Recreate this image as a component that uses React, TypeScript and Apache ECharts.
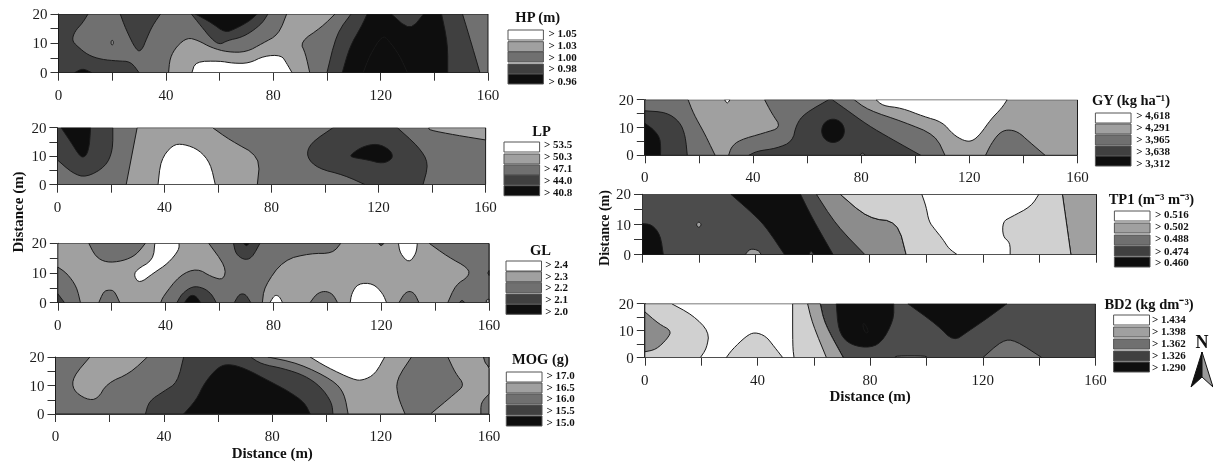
import React, { useEffect, useRef } from "react";
import * as echarts from "echarts";

type Pt = [number, number];
type Layer = [number, Pt[]];

// level index -> see LEVEL_COLORS
const hpLayers: Layer[] = [
  [2, [[0,0],[160,0],[160,20],[0,20]]],
  [3, [[0,20],[11,20],[9,17],[6,14],[5,11],[7,9],[11,6],[16,4.5],[22,4],[27,3.8],[30,0],[0,0]]],
  [3, [[23,20],[25,15],[29,7.5],[31,7.5],[33,12],[35,16],[38,20]]],
  [1, [[19.6,11],[20.4,11],[20.4,9.5],[19.6,9.5]]],
  [4, [[6,0],[9,1.5],[12.4,0]]],
  [1, [[41,0],[41.5,5],[44,9],[48,12],[52,11],[57,8.5],[63,7],[70,7],[76,10],[82,13],[85,20],[103,20],[98,15.5],[90,10.5],[92,6.6],[93.6,0]]],
  [3, [[49.5,20],[53,16],[57,11.5],[60,9.5],[63,11],[68,12],[72,14],[76,17],[78,20]]],
  [4, [[51,20],[57,17],[62,13.6],[66,15],[71,17.5],[74,20]]],
  [0, [[49.7,0],[51,3.8],[60,4],[65,3.2],[71,3.2],[76.5,5.7],[83,6],[85,3.2],[87,0]]],
  [3, [[109,20],[103.6,13.4],[100,0],[157,0],[152.7,13.4],[150.5,20]]],
  [4, [[115,20],[112.8,15.7],[108.5,8.9],[105.7,0],[145,0],[145,10],[142.7,20],[136,20],[131,14.3],[124,20]]],
  [7, [[113.5,0],[116,6],[120.6,12.8],[123,11],[127,6],[130,0]]],
];

const lpLayers: Layer[] = [
  [2, [[0,0],[160,0],[160,20],[0,20]]],
  [3, [[0,20],[20.7,20],[20.7,12],[18,6.3],[10.7,2.5],[5.7,4],[0,8.7]]],
  [4, [[1.4,20],[12.4,20],[12,14],[11,10.5],[9.5,9.5],[8,10.5],[5,15]]],
  [1, [[29.8,20],[58,20],[64.4,15.7],[75.8,9.8],[74.7,0],[25.7,0]]],
  [0, [[37.6,0],[38.6,8.7],[43,14],[47.2,14.3],[53,12.2],[57.2,7.5],[59,0]]],
  [3, [[103,20],[94.4,14.5],[93,9.8],[97.3,5.7],[107,3.4],[115,0],[136.6,0],[138.8,7.5],[135,13.3],[127,20]]],
  [4, [[109.4,10.4],[113.7,13.3],[119.5,14.5],[124.5,12.2],[125.5,9.2],[121.6,7.3],[116,8.7],[110,9.6]]],
  [1, [[138.8,20],[138.8,19.2],[148.8,17.4],[160,15.7],[160,20]]],
];

const glLayers: Layer[] = [
  [1, [[0,0],[160,0],[160,20],[0,20]]],
  [2, [[0,12],[3.4,9.9],[7,5.4],[8.4,0],[0,0]]],
  [3, [[0,3],[2.5,0],[0,0]]],
  [2, [[11.5,20],[14,15.5],[18,13.5],[24,14],[29,16],[32.5,20]]],
  [2, [[15.2,0],[17,3.8],[19,4.3],[21,4],[23,0]]],
  [0, [[36,20],[35.4,14.4],[29,11],[28.3,8.8],[30.4,6.5],[35.4,9.9],[41,13.3],[45,17.8],[45,20]]],
  [2, [[56,20],[62.4,12.1],[61.6,7.6],[57,8.7],[51.7,11.6],[45.3,9.3],[39,2],[38.2,0],[75.9,0],[76.6,5.4],[83.7,14.4],[93.6,16.6],[102,16.6],[105,20]]],
  [3, [[44.2,0],[46,3],[50,5.6],[54,5],[57,3],[58.8,0]]],
  [4, [[47,0],[48.5,2],[50,2.6],[51.5,2],[53,0]]],
  [3, [[65.5,0],[67,2.5],[68.5,3.1],[70,2.5],[71.6,0]]],
  [3, [[65.2,20],[66,16.5],[69,14.4],[72,15],[75,20]]],
  [4, [[69,20],[70,19],[71,20]]],
  [3, [[119,20],[120,19],[121,20]]],
  [0, [[78.7,0],[80,2],[81,2.6],[82.3,2],[83.4,0]]],
  [2, [[93.6,0],[96,3],[99,4],[102,3],[103.8,0]]],
  [0, [[108.5,0],[109,3.1],[111.4,6.5],[117,6.5],[120.6,3.1],[122,0]]],
  [2, [[126.6,0],[128.5,3],[130.5,4],[132.5,3],[134,0]]],
  [0, [[126.4,20],[127,16.6],[130.3,13.3],[133,16.6],[133.4,20]]],
  [2, [[137.8,20],[144.7,15.5],[152.5,11.6],[152.5,8.8],[147.6,6],[144.7,0],[160,0],[160,20]]],
  [3, [[149,0],[150,1],[151,0]]],
  [3, [[159.5,10],[160,10.8],[160,9.2]]],
  [1, [[159,0],[159,1],[160,1.2],[160,0]]],
];

const mogLayers: Layer[] = [
  [2, [[0,0],[160,0],[160,20],[0,20]]],
  [1, [[12.7,20],[6.4,13],[6.4,8.4],[11.3,5.1],[15.5,5.1],[19,10.8],[27.5,14.3],[33.9,20]]],
  [1, [[78.4,20],[89.7,17.8],[102.4,11.9],[106.6,7.3],[108,0],[157,0],[157,4],[160,7],[160,16],[158,20]]],
  [0, [[94,20],[100,16.5],[110,12],[113.5,11.8],[118,14],[121.5,20]]],
  [2, [[131.4,20],[125.7,11.9],[126.4,6],[129,0],[138.4,0],[147.6,7.3],[151,10.2],[147.6,14.3],[144.8,20]]],
  [3, [[33.2,0],[34.5,4.5],[40,8],[45,11],[47.3,20],[72,20],[76,17.5],[84,16],[92,13.5],[98,9.5],[102,4],[102.4,0]]],
  [4, [[47.3,0],[52,5],[55,11],[60,16.5],[64,17.6],[70,16],[79,11.5],[86,8],[92,4],[94,0]]],
  [2, [[158,20],[158.5,18],[160,16.5],[160,20]]],
];

const gyLayers: Layer[] = [
  [1, [[0,0],[160,0],[160,20],[0,20]]],
  [2, [[0,20],[16,20],[18,15],[22,8],[24,4],[26,0],[0,0]]],
  [3, [[0,16],[8,15.5],[13,12],[15,7],[15.7,0],[0,0]]],
  [4, [[0,11.5],[3,9.5],[5.5,6.5],[5.9,3],[5.8,0],[0,0]]],
  [2, [[44.3,20],[47,15],[50.5,10],[44,8],[35,5.5],[32,3],[31,0],[111,0],[107.5,7.3],[95.7,12],[82.5,16.3],[77.4,20]]],
  [3, [[68,20],[59,15],[56,11],[54.6,4.9],[48.7,2.5],[41.4,1.5],[38.5,0],[102,0],[91,6],[82.5,10.8],[73.7,17],[69.3,20]]],
  [4, [[69.6,13.3],[72.8,12],[74.1,8.8],[72.8,5.6],[69.6,4.3],[66.4,5.6],[65.1,8.8],[66.4,12]]],
  [0, [[85.5,20],[88,17.8],[95,17],[103,14],[110,12],[114,7.5],[118,5.2],[121,5],[124,7.5],[128,13],[132,17],[134,20]]],
  [0, [[29.5,20],[30.5,18.5],[31.5,20]]],
  [2, [[126,0],[128,4],[131,8],[134,9.3],[138,8.5],[142,5],[148,0]]],
  [2, [[79.5,0],[80.5,1],[81.5,0]]],
];

const tp1Layers: Layer[] = [
  [8, [[0,0],[160,0],[160,20],[0,20]]],
  [4, [[31.3,20],[37.6,14.8],[43.2,9.8],[50.2,0],[67.3,0],[60,12],[55.8,20]]],
  [4, [[0,10.3],[3.5,10],[6.5,6.5],[7.5,0],[0,0]]],
  [1, [[20,11],[21,10],[20,8.8],[19,10]]],
  [1, [[36.3,0],[38,2],[41,1.5],[42,0]]],
  [8, [[58.8,0],[59.5,1.5],[60.5,0]]],
  [6, [[61.4,20],[69.8,20],[79.6,12],[90,11],[93,0],[78.5,0],[68.4,9.8]]],
  [1, [[148,20],[160,20],[160,0],[151,0],[149.5,10]]],
  [5, [[69.8,20],[148,20],[149.5,10],[151,0],[93,0],[90,11],[79.6,12]]],
  [0, [[98.5,20],[139.7,20],[137,16],[130,12.5],[127,11],[127,6],[129.6,4],[129.6,0],[111,0],[108,2],[106,5],[103,8.5],[101,11],[100,16]]],
];

const bd2Layers: Layer[] = [
  [8, [[0,0],[160,0],[160,20],[0,20]]],
  [0, [[0,0],[70.5,0],[63.8,12.7],[62.3,20],[0,20]]],
  [5, [[0,20],[9.5,20],[17,15.8],[22.9,9.6],[22,3.5],[19.7,0],[0,0]]],
  [6, [[0,17],[5,12.5],[9.5,10],[8,7],[4,3],[0,2.2]]],
  [5, [[28.9,0],[31,3],[36,8],[39,9.5],[43,8],[46,4],[49,0]]],
  [5, [[52.5,20],[62.3,20],[63.8,12.7],[70.5,0],[53,0],[52.5,4]]],
  [1, [[57.8,20],[62.3,20],[63.8,12.7],[70.5,0],[64.5,0],[59.5,12.7]]],
  [4, [[68,20],[68.7,10.2],[72,5.3],[78.6,3.5],[84,5.3],[88.4,14],[88.4,20]]],
  [7, [[77.5,13],[78.5,12],[79.5,9.5],[78.5,9],[77.5,11]]],
  [4, [[93.4,20],[104,12],[109.6,6],[114.6,9.6],[121.6,14.6],[128.6,20]]],
  [2, [[120,0],[127,6.5],[131.5,6.5],[141,0]]],
  [2, [[89,0],[89,0.7],[100,0.7],[100,0]]],
];

const xTickValues = [0, 40, 80, 120, 160];
const yTickValues = [0, 10, 20];

const hpLegend = ["> 1.05", "> 1.03", "> 1.00", "> 0.98", "> 0.96"];
const lpLegend = ["> 53.5", "> 50.3", "> 47.1", "> 44.0", "> 40.8"];
const glLegend = ["> 2.4", "> 2.3", "> 2.2", "> 2.1", "> 2.0"];
const mogLegend = ["> 17.0", "> 16.5", "> 16.0", "> 15.5", "> 15.0"];
const gyLegend = ["> 4,618", "> 4,291", "> 3,965", "> 3,638", "> 3,312"];
const tp1Legend = ["> 0.516", "> 0.502", "> 0.488", "> 0.474", "> 0.460"];
const bd2Legend = ["> 1.434", "> 1.398", "> 1.362", "> 1.326", "> 1.290"];

const LEVEL_COLORS = ["#ffffff", "#a0a0a0", "#707070", "#404040", "#0e0e0e", "#d0d0d0", "#8c8c8c", "#0e0e0e", "#4c4c4c"];
const LEGEND_COLORS = ["#ffffff", "#a0a0a0", "#707070", "#404040", "#0e0e0e"];
const SERIF = '"Liberation Serif", serif';
const INK = "#1c1c1c";

interface Panel {
  layers: Layer[]; left: number; right: number; top: number; bottom: number;
  title: string; titleX: number; titleY: number;
  legend: string[]; swL: number; swR: number; swY: number[]; labX: number; labY: number[];
  xName?: string; nameGap?: number; hideXLabels?: boolean;
}

const panels: Panel[] = [
  { layers: hpLayers, left: 58.5, right: 488, top: 14, bottom: 72.7, title: "HP (m)", titleX: 537.7, titleY: 17,
    legend: hpLegend, swL: 508, swR: 543.4, swY: [35, 46.7, 57, 69, 79], labX: 548.4, labY: [33.3, 45, 56.7, 68.3, 81] },
  { layers: lpLayers, left: 57.4, right: 485.6, top: 127.7, bottom: 184.7, title: "LP", titleX: 541.5, titleY: 131,
    legend: lpLegend, swL: 504, swR: 539.6, swY: [147, 159, 170, 180, 190.7], labX: 544, labY: [144, 156, 168.3, 180, 191.7] },
  { layers: glLayers, left: 57.8, right: 489, top: 243.3, bottom: 302.7, title: "GL", titleX: 540.4, titleY: 250,
    legend: glLegend, swL: 506, swR: 541.5, swY: [266, 276.7, 287.7, 299, 309.3], labX: 545.3, labY: [264, 275.7, 287.3, 299.3, 311] },
  { layers: mogLayers, left: 55.5, right: 489, top: 357, bottom: 414, title: "MOG (g)", titleX: 540.4, titleY: 359.3,
    legend: mogLegend, swL: 506.3, swR: 542, swY: [377, 388, 399, 410, 421], labX: 546.5, labY: [375, 386.7, 398.3, 410, 421.7], xName: "Distance (m)", nameGap: 31 },
  { layers: gyLayers, left: 644.8, right: 1077.5, top: 99.7, bottom: 155.3, title: "GY (kg ha⁻¹)", titleX: 1131, titleY: 100,
    legend: gyLegend, swL: 1095.4, swR: 1131, swY: [118, 129, 140, 151, 161], labX: 1136.3, labY: [115, 127.3, 139.3, 151, 162.7] },
  { layers: tp1Layers, left: 642, right: 1096.5, top: 194.3, bottom: 254.7, title: "TP1 (m⁻³ m⁻³)", titleX: 1151.4, titleY: 199.3,
    legend: tp1Legend, swL: 1114.4, swR: 1150, swY: [216, 228, 240, 251, 262], labX: 1155, labY: [214.3, 226.3, 238.3, 250.7, 262.3], hideXLabels: true },
  { layers: bd2Layers, left: 644.8, right: 1095.4, top: 303.7, bottom: 357.7, title: "BD2 (kg dm⁻³)", titleX: 1149, titleY: 304,
    legend: bd2Legend, swL: 1113.6, swR: 1149.5, swY: [320, 332, 344, 356, 367], labX: 1152, labY: [319, 331, 343.3, 355.3, 367.3], xName: "Distance (m)", nameGap: 31 },
];

// corner-cutting for the contour outlines; points on the panel's border stay put
function smoothPts(pts: Pt[]): Pt[] {
  const onEdge = (p: Pt) => p[0] <= 0 || p[0] >= 160 || p[1] <= 0 || p[1] >= 20;
  let cur = pts;
  for (let k = 0; k < 2; k++) {
    const out: Pt[] = [];
    const n = cur.length;
    cur.forEach((p, i) => {
      if (onEdge(p)) { out.push(p); return; }
      const a = cur[(i - 1 + n) % n];
      const b = cur[(i + 1) % n];
      out.push([0.75 * p[0] + 0.25 * a[0], 0.75 * p[1] + 0.25 * a[1]]);
      out.push([0.75 * p[0] + 0.25 * b[0], 0.75 * p[1] + 0.25 * b[1]]);
    });
    cur = out;
  }
  return cur;
}

function buildOption() {
  const axisText = { fontFamily: SERIF, fontSize: 15, color: INK };
  const graphics: any[] = [];
  panels.forEach((p) => {
    graphics.push({ type: "text", x: p.titleX, y: p.titleY,
      style: { text: p.title, fontFamily: SERIF, fontWeight: "bold", fontSize: 14.5, fill: "#111", align: "center", verticalAlign: "middle" } });
    p.legend.forEach((t, i) => {
      graphics.push({ type: "rect", shape: { x: p.swL, y: p.swY[i] - 5, width: p.swR - p.swL, height: 10 },
        style: { fill: LEGEND_COLORS[i], stroke: "#555", lineWidth: 1 } });
      graphics.push({ type: "text", x: p.labX, y: p.labY[i],
        style: { text: t, fontFamily: SERIF, fontWeight: "bold", fontSize: 11, fill: "#111", align: "left", verticalAlign: "middle" } });
    });
  });
  graphics.push({ type: "text", x: 18, y: 212, rotation: Math.PI / 2, originX: 0, originY: 0,
    style: { text: "Distance (m)", fontFamily: SERIF, fontWeight: "bold", fontSize: 15, fill: "#111", align: "center", verticalAlign: "middle" } });
  graphics.push({ type: "text", x: 604, y: 228, rotation: Math.PI / 2, originX: 0, originY: 0,
    style: { text: "Distance (m)", fontFamily: SERIF, fontWeight: "bold", fontSize: 14, fill: "#111", align: "center", verticalAlign: "middle" } });
  graphics.push({ type: "text", x: 1202, y: 342,
    style: { text: "N", fontFamily: SERIF, fontWeight: "bold", fontSize: 18, fill: "#111", align: "center", verticalAlign: "middle" } });
  graphics.push({ type: "polygon", shape: { points: [[1202, 352], [1202, 377], [1191, 387]] }, style: { fill: "#111", stroke: "#111" } });
  graphics.push({ type: "polygon", shape: { points: [[1202, 352], [1202, 377], [1213, 387]] }, style: { fill: "#999", stroke: "#111" } });

  return {
    animation: false,
    backgroundColor: "#ffffff",
    grid: panels.map((p) => ({ left: p.left, top: p.top, width: p.right - p.left, height: p.bottom - p.top, containLabel: false })),
    xAxis: panels.map((p, i) => ({
      gridIndex: i, type: "value", min: 0, max: 160, interval: 20,
      name: p.xName, nameLocation: "middle", nameGap: p.nameGap ?? 30, nameMoveOverlap: false,
      nameTextStyle: { fontFamily: SERIF, fontWeight: "bold", fontSize: 15, color: "#111" },
      axisLine: { lineStyle: { color: "#333" } },
      axisTick: { length: 8, lineStyle: { color: "#333" } },
      splitLine: { show: false },
      axisLabel: { ...axisText, show: !p.hideXLabels, margin: 14.5, formatter: (v: number) => (xTickValues.includes(v) ? String(v) : "") },
    })),
    yAxis: panels.map((p, i) => ({
      gridIndex: i, type: "value", min: 0, max: 20, interval: 5,
      axisLine: { show: true, lineStyle: { color: "#333" } },
      axisTick: { show: true, length: 8, lineStyle: { color: "#333" } },
      splitLine: { show: false },
      axisLabel: { ...axisText, margin: 11, formatter: (v: number) => (yTickValues.includes(v) ? String(v) : "") },
    })),
    series: panels.map((p, i) => ({
      type: "custom", xAxisIndex: i, yAxisIndex: i, coordinateSystem: "cartesian2d", clip: true, silent: true,
      data: p.layers.map((_, k) => [k, 0]),
      renderItem: (params: any, api: any) => {
        const [level, pts] = p.layers[params.dataIndex];
        return {
          type: "polygon",
          shape: { points: smoothPts(pts).map((q) => api.coord(q)) },
          style: { fill: LEVEL_COLORS[level], stroke: "#1a1a1a", lineWidth: 1 },
        };
      },
    })),
    graphic: { elements: graphics },
  };
}

export default function App() {
  const ref = useRef<HTMLDivElement>(null);
  useEffect(() => {
    document.body.style.margin = "0";
    const chart = echarts.init(ref.current!, undefined, { renderer: "svg" });
    chart.setOption(buildOption() as any);
    return () => chart.dispose();
  }, []);
  return <div ref={ref} style={{ width: 1213, height: 462, filter: "blur(0.4px)" }} />;
}
